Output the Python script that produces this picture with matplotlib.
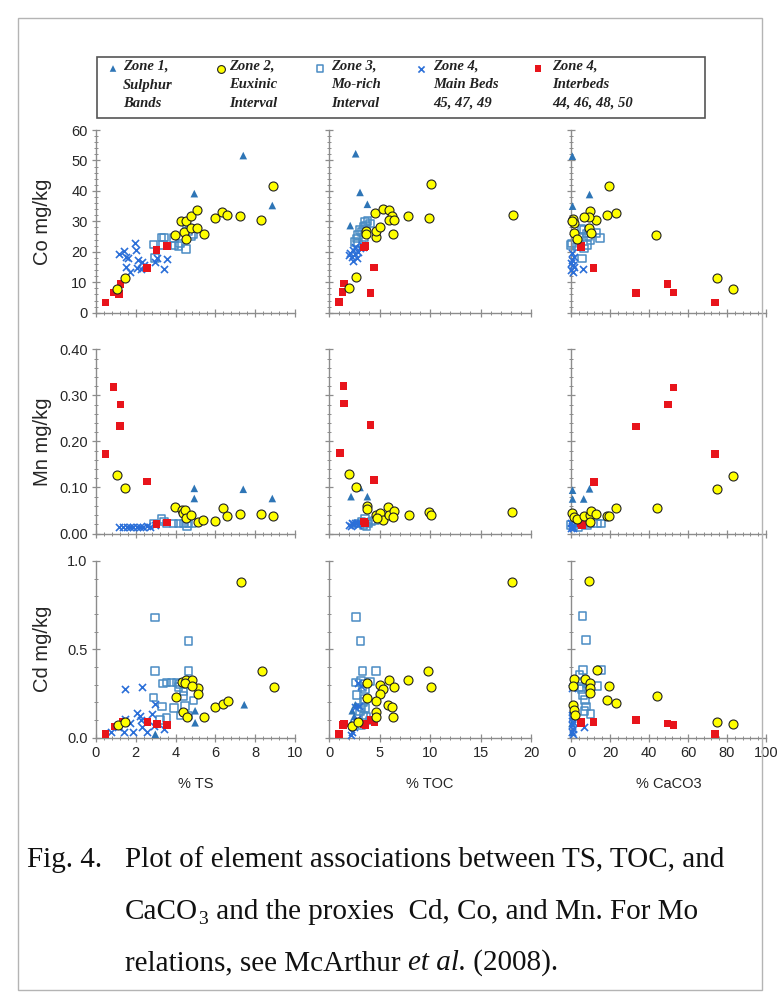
"""
Element associations (Co, Mn, Cd) against TS, TOC and CaCO3, five zone groups.
"""

import matplotlib
matplotlib.use("Agg")
import matplotlib.pyplot as plt
from matplotlib.patches import Rectangle
from matplotlib.ticker import MultipleLocator, FormatStrFormatter

plt.rcParams["font.family"] = ["Liberation Sans", "DejaVu Sans"]

# ---- data: (x, y) pairs ----
# Zone 1, Sulphur Bands
TS_CO_Z1 = [(4.94, 39.1), (7.40, 51.6), (8.86, 35.2)]
TOC_CO_Z1 = [(2.64, 52.2), (3.07, 39.5), (3.80, 35.6), (2.10, 28.6)]
CACO3_CO_Z1 = [(0.7, 51.4), (9.5, 38.8), (0.8, 35.0)]
TS_MN_Z1 = [(4.94, 0.098), (4.94, 0.076), (7.40, 0.096), (8.86, 0.076)]
TOC_MN_Z1 = [(2.18, 0.080), (3.07, 0.100), (3.80, 0.080)]
CACO3_MN_Z1 = [(0.8, 0.094), (0.8, 0.075), (6.5, 0.075), (9.5, 0.097)]
TS_CD_Z1 = [(4.98, 0.152), (4.98, 0.084), (7.45, 0.186), (2.98, 0.019)]
TOC_CD_Z1 = [(2.6, 0.186), (2.3, 0.152), (2.2, 0.084), (2.5, 0.120)]
CACO3_CD_Z1 = [(0.7, 0.150), (1.0, 0.120), (0.5, 0.080), (0.6, 0.030)]

# Zone 2, Euxinic Interval
TS_CO_Z2 = [(1.07, 7.9), (1.44, 11.5), (3.99, 25.6), (4.29, 30.2), (4.51, 30.2),
            (4.41, 26.5), (4.52, 24.3), (4.77, 31.6), (4.77, 27.9), (5.08, 33.6),
            (5.10, 27.9), (5.41, 25.7), (5.96, 31.0), (6.35, 33.0), (6.60, 32.1),
            (7.24, 31.6), (8.28, 30.6), (8.88, 41.6)]
TOC_CO_Z2 = [(1.95, 8.1), (2.67, 11.7), (3.70, 26.9), (3.70, 26.0), (4.69, 24.7),
             (4.65, 26.9), (4.59, 32.7), (5.03, 28.2), (5.37, 34.2), (5.90, 33.6),
             (6.20, 31.7), (5.90, 30.4), (6.47, 30.4), (6.30, 25.9), (7.85, 31.9),
             (9.86, 31.2), (10.1, 42.3), (18.2, 32.0)]
CACO3_CO_Z2 = [(19.3, 41.5), (9.5, 33.4), (18.4, 32.0), (23.2, 32.9), (13.0, 30.6),
               (9.0, 31.4), (6.5, 31.3), (1.0, 30.9), (1.4, 29.5), (0.5, 30.2),
               (9.4, 27.7), (10.4, 26.3), (1.7, 26.3), (3.1, 24.1), (43.8, 25.5),
               (74.7, 11.4), (82.9, 7.9)]
TS_MN_Z2 = [(1.07, 0.127), (1.44, 0.098), (3.99, 0.058), (4.30, 0.050), (4.39, 0.045),
            (4.47, 0.051), (4.52, 0.033), (4.77, 0.040), (5.11, 0.026), (5.39, 0.029),
            (5.98, 0.028), (6.37, 0.055), (6.60, 0.037), (7.24, 0.043), (8.27, 0.042),
            (8.91, 0.038)]
TOC_MN_Z2 = [(1.95, 0.130), (2.67, 0.101), (3.73, 0.060), (3.73, 0.053), (4.65, 0.040),
             (5.05, 0.045), (5.38, 0.029), (5.87, 0.058), (5.94, 0.040), (6.44, 0.049),
             (6.30, 0.035), (7.89, 0.041), (9.87, 0.046), (10.1, 0.040), (18.15, 0.046),
             (4.79, 0.033)]
CACO3_MN_Z2 = [(74.7, 0.097), (83.2, 0.125), (0.5, 0.045), (1.3, 0.035), (3.1, 0.031),
               (6.5, 0.038), (9.5, 0.040), (10.4, 0.049), (13.0, 0.042), (9.5, 0.024),
               (18.4, 0.037), (19.6, 0.038), (23.2, 0.055), (44.0, 0.056)]
TS_CD_Z2 = [(7.29, 0.879), (8.36, 0.377), (8.94, 0.286), (4.00, 0.228), (4.30, 0.313),
            (4.50, 0.326), (4.84, 0.328), (4.47, 0.307), (5.14, 0.279), (5.14, 0.247),
            (4.84, 0.292), (6.00, 0.175), (6.37, 0.188), (6.65, 0.207), (4.39, 0.147),
            (4.56, 0.118), (5.44, 0.118), (1.10, 0.074), (1.46, 0.087)]
TOC_CD_Z2 = [(18.09, 0.879), (9.83, 0.377), (10.07, 0.286), (7.85, 0.326), (5.94, 0.326),
             (5.05, 0.298), (5.38, 0.275), (6.44, 0.286), (5.05, 0.247), (3.73, 0.307),
             (3.73, 0.226), (4.62, 0.207), (5.87, 0.185), (6.27, 0.175), (4.65, 0.147),
             (6.37, 0.118), (4.65, 0.118), (2.28, 0.065), (2.88, 0.087)]
CACO3_CD_Z2 = [(9.0, 0.887), (13.3, 0.383), (19.6, 0.292), (44.0, 0.234), (18.7, 0.213),
               (23.2, 0.194), (1.3, 0.334), (0.8, 0.294), (7.0, 0.334), (9.5, 0.307),
               (9.9, 0.279), (9.9, 0.254), (1.0, 0.185), (1.3, 0.156), (2.2, 0.128),
               (74.7, 0.090), (82.9, 0.078)]

# Zone 3, Mo-rich Interval
TS_CO_Z3 = [(2.88, 22.4), (2.96, 18.0), (3.30, 24.7), (3.38, 22.2), (3.42, 24.7),
            (3.92, 24.5), (3.94, 22.1), (4.14, 21.9), (4.22, 22.7), (4.52, 20.9),
            (4.56, 27.9), (4.64, 26.8), (4.77, 25.1), (4.86, 25.8)]
TOC_CO_Z3 = [(3.56, 29.8), (3.83, 30.2), (3.40, 28.2), (3.07, 27.1), (2.90, 25.5),
             (2.74, 24.4), (2.57, 23.3), (3.23, 26.6), (3.66, 28.4), (4.06, 29.3),
             (2.90, 22.7), (3.47, 24.9)]
CACO3_CO_Z3 = [(0.0, 22.2), (0.5, 22.7), (5.3, 27.4), (6.5, 27.1), (8.2, 26.0),
               (13.0, 26.2), (15.0, 24.6), (5.6, 17.8), (8.2, 22.2), (4.4, 24.9),
               (9.9, 23.8), (6.8, 21.1), (3.1, 21.7), (9.0, 25.1)]
TS_MN_Z3 = [(3.30, 0.031), (3.42, 0.026), (3.89, 0.022), (4.14, 0.022), (4.39, 0.022),
            (4.56, 0.016), (4.64, 0.022), (4.81, 0.023), (3.55, 0.022), (2.88, 0.022)]
TOC_MN_Z3 = [(2.90, 0.022), (3.23, 0.026), (3.56, 0.031), (3.89, 0.022), (3.73, 0.015),
             (4.22, 0.026), (4.55, 0.028), (3.40, 0.018)]
CACO3_MN_Z3 = [(0.0, 0.018), (1.3, 0.016), (3.1, 0.022), (5.6, 0.020), (8.2, 0.018),
               (9.9, 0.022), (13.3, 0.022), (15.3, 0.022), (3.9, 0.013)]
TS_CD_Z3 = [(2.96, 0.681), (4.64, 0.547), (2.96, 0.377), (4.64, 0.377), (3.38, 0.307),
            (3.55, 0.311), (3.80, 0.313), (4.05, 0.313), (4.22, 0.303), (4.14, 0.288),
            (4.39, 0.260), (4.39, 0.235), (2.88, 0.228), (3.32, 0.175), (3.91, 0.166),
            (4.89, 0.209), (4.47, 0.179), (3.55, 0.111), (3.22, 0.100), (4.27, 0.125),
            (4.63, 0.125)]
TOC_CD_Z3 = [(2.67, 0.683), (3.10, 0.547), (3.33, 0.377), (4.65, 0.377), (2.67, 0.313),
             (3.14, 0.320), (3.56, 0.307), (4.06, 0.317), (2.74, 0.241), (3.56, 0.273),
             (3.40, 0.203), (3.56, 0.169), (3.07, 0.147), (3.66, 0.118), (3.33, 0.288),
             (3.20, 0.171), (3.50, 0.217), (3.42, 0.125), (4.00, 0.097), (3.20, 0.069)]
CACO3_CD_Z3 = [(5.9, 0.688), (7.7, 0.554), (6.1, 0.383), (15.3, 0.383), (4.4, 0.354),
               (5.6, 0.317), (8.2, 0.307), (13.3, 0.292), (5.3, 0.275), (6.1, 0.241),
               (7.3, 0.213), (7.8, 0.175), (7.0, 0.151), (9.9, 0.134), (4.4, 0.288)]

# Zone 4, Main Beds 45, 47, 49
TS_CO_Z4M = [(1.17, 19.4), (1.41, 20.1), (1.51, 18.4), (1.62, 17.8), (1.51, 15.1),
             (1.71, 13.3), (1.96, 22.9), (2.01, 20.5), (2.04, 14.8), (2.13, 17.3),
             (2.33, 16.7), (2.41, 15.6), (2.24, 14.2), (2.96, 16.7), (3.05, 17.8),
             (3.42, 14.4), (3.58, 17.5)]
TOC_CO_Z4M = [(2.08, 19.5), (2.24, 18.4), (2.41, 20.5), (2.57, 19.2), (2.74, 17.8),
              (3.07, 21.1), (3.23, 22.2), (2.34, 17.1), (2.01, 18.9), (2.90, 20.0),
              (2.57, 21.6), (3.40, 21.6)]
CACO3_CO_Z4M = [(0.5, 17.3), (0.8, 15.6), (0.0, 14.0), (1.3, 18.4), (0.5, 19.5),
                (1.0, 13.5), (6.1, 14.4), (0.0, 16.2), (1.3, 14.9)]
TS_MN_Z4M = [(1.17, 0.015), (1.37, 0.015), (1.54, 0.015), (1.71, 0.015), (1.88, 0.015),
             (2.04, 0.015), (2.21, 0.015), (2.38, 0.015), (2.55, 0.016), (2.71, 0.015),
             (2.96, 0.018)]
TOC_MN_Z4M = [(2.01, 0.018), (2.24, 0.022), (2.41, 0.020), (2.57, 0.022), (2.74, 0.023),
              (2.18, 0.016), (2.90, 0.019), (3.07, 0.022)]
CACO3_MN_Z4M = [(0.0, 0.022), (0.5, 0.016), (1.0, 0.013), (0.0, 0.013)]
TS_CD_Z4M = [(1.46, 0.277), (2.33, 0.285), (2.96, 0.190), (0.73, 0.032), (1.10, 0.060),
             (1.46, 0.106), (1.71, 0.084), (2.07, 0.139), (2.20, 0.121), (2.32, 0.060),
             (1.88, 0.032), (2.56, 0.032), (2.93, 0.065), (2.27, 0.097), (1.39, 0.032),
             (3.41, 0.050), (2.80, 0.134)]
TOC_CD_Z4M = [(2.28, 0.032), (2.50, 0.060), (2.74, 0.106), (2.97, 0.180), (2.20, 0.013),
              (2.65, 0.087), (3.20, 0.290), (2.88, 0.310), (2.57, 0.175)]
CACO3_CD_Z4M = [(0.5, 0.13), (0.5, 0.11), (0.8, 0.09), (0.3, 0.07), (1.0, 0.05),
                (0.5, 0.03), (1.2, 0.02), (6.5, 0.06), (0.5, 0.28), (1.0, 0.29)]

# Zone 4, Interbeds 44, 46, 48, 50
TS_CO_Z4I = [(0.47, 3.4), (0.87, 6.6), (1.17, 6.2), (1.24, 9.4), (2.55, 14.7),
             (3.05, 20.6), (3.57, 22.0)]
TOC_CO_Z4I = [(1.02, 3.5), (1.35, 6.7), (4.10, 6.4), (1.49, 9.6), (4.46, 14.8),
              (3.45, 21.4), (3.60, 22.0)]
CACO3_CO_Z4I = [(73.7, 3.3), (52.5, 6.6), (33.3, 6.4), (49.5, 9.4), (11.6, 14.6),
                (5.1, 21.4), (5.2, 22.0)]
TS_MN_Z4I = [(0.47, 0.173), (0.87, 0.318), (1.20, 0.233), (1.24, 0.280), (2.55, 0.113),
             (3.05, 0.020), (3.57, 0.024)]
TOC_MN_Z4I = [(1.09, 0.175), (1.42, 0.320), (4.10, 0.235), (1.50, 0.282), (4.46, 0.116),
              (3.47, 0.026), (3.56, 0.022)]
CACO3_MN_Z4I = [(74.0, 0.172), (52.5, 0.317), (33.3, 0.232), (49.8, 0.280), (11.7, 0.112),
                (5.1, 0.022), (5.6, 0.018)]
TS_CD_Z4I = [(0.48, 0.019), (0.96, 0.063), (1.33, 0.091), (2.58, 0.087), (3.08, 0.076),
             (3.57, 0.072)]
TOC_CD_Z4I = [(1.0, 0.020), (1.4, 0.070), (1.5, 0.080), (4.1, 0.100), (4.5, 0.087),
              (3.45, 0.076), (3.6, 0.072)]
CACO3_CD_Z4I = [(73.7, 0.020), (52.5, 0.070), (49.5, 0.080), (33.3, 0.100), (11.6, 0.087),
                (5.1, 0.090), (5.2, 0.080)]

X_LABELS = ["% TS", "% TOC", "% CaCO3"]
X_LIMITS = [(0, 10, 2, 0.4), (0, 20, 5, 1), (0, 100, 20, 4)]
Y_LABELS = ["Co mg/kg", "Mn mg/kg", "Cd mg/kg"]
Y_LIMITS = [(0, 60, 10, 2, "%d"), (0, 0.40, 0.10, 0.02, "%.2f"), (0, 1.0, 0.5, 0.1, "%.1f")]

LEGEND_LABELS = ["Zone 1,\nSulphur\nBands", "Zone 2,\nEuxinic\nInterval",
                 "Zone 3,\nMo-rich\nInterval", "Zone 4,\nMain Beds\n45, 47, 49",
                 "Zone 4,\nInterbeds\n44, 46, 48, 50"]

PANELS = [
    [[TS_CO_Z1, TS_CO_Z2, TS_CO_Z3, TS_CO_Z4M, TS_CO_Z4I],
     [TOC_CO_Z1, TOC_CO_Z2, TOC_CO_Z3, TOC_CO_Z4M, TOC_CO_Z4I],
     [CACO3_CO_Z1, CACO3_CO_Z2, CACO3_CO_Z3, CACO3_CO_Z4M, CACO3_CO_Z4I]],
    [[TS_MN_Z1, TS_MN_Z2, TS_MN_Z3, TS_MN_Z4M, TS_MN_Z4I],
     [TOC_MN_Z1, TOC_MN_Z2, TOC_MN_Z3, TOC_MN_Z4M, TOC_MN_Z4I],
     [CACO3_MN_Z1, CACO3_MN_Z2, CACO3_MN_Z3, CACO3_MN_Z4M, CACO3_MN_Z4I]],
    [[TS_CD_Z1, TS_CD_Z2, TS_CD_Z3, TS_CD_Z4M, TS_CD_Z4I],
     [TOC_CD_Z1, TOC_CD_Z2, TOC_CD_Z3, TOC_CD_Z4M, TOC_CD_Z4I],
     [CACO3_CD_Z1, CACO3_CD_Z2, CACO3_CD_Z3, CACO3_CD_Z4M, CACO3_CD_Z4I]],
]

# marker styles per zone (same order as the lists above)
STYLES = [
    dict(marker="^", s=30, c="#2E75B6", edgecolors="none", zorder=3),
    dict(marker="o", s=42, c="#FFFF00", edgecolors="#222222", linewidths=0.8, zorder=5),
    dict(marker="s", s=30, facecolors="none", edgecolors="#4A8CC4", linewidths=1.1, zorder=2),
    dict(marker="x", s=26, c="#2B6FD8", linewidths=1.2, zorder=3),
    dict(marker="s", s=30, c="#E8141B", edgecolors="none", zorder=4),
]

W, H = 780, 1008
fig = plt.figure(figsize=(W / 100, H / 100), dpi=100)

# pixel boxes of the axes: (left, right) per column, (top, bottom) per row
COLS = [(96, 295), (329, 531), (571, 766)]
ROWS = [(130, 312.7), (349.3, 533.5), (561, 737.6)]
AX_GREY = "#8C8C8C"

for r, (top, bot) in enumerate(ROWS):
    y0, y1, ymaj, ymin, yfmt = Y_LIMITS[r]
    for c, (left, right) in enumerate(COLS):
        x0, x1, xmaj, xmin = X_LIMITS[c]
        ax = fig.add_axes([left / W, 1 - bot / H, (right - left) / W, (bot - top) / H])
        for pts, st in zip(PANELS[r][c], STYLES):
            xs = [p[0] for p in pts]
            ys = [p[1] for p in pts]
            ax.scatter(xs, ys, clip_on=False, **st)
        ax.set_xlim(x0, x1)
        ax.set_ylim(y0, y1)
        ax.xaxis.set_major_locator(MultipleLocator(xmaj))
        ax.xaxis.set_minor_locator(MultipleLocator(xmin))
        ax.yaxis.set_major_locator(MultipleLocator(ymaj))
        ax.yaxis.set_minor_locator(MultipleLocator(ymin))
        ax.yaxis.set_major_formatter(FormatStrFormatter(yfmt))
        for side in ["top", "right"]:
            ax.spines[side].set_visible(False)
        for side in ["left", "bottom"]:
            ax.spines[side].set_color(AX_GREY)
            ax.spines[side].set_linewidth(1.0)
        ax.tick_params(which="major", direction="inout", length=6, width=0.9,
                       color=AX_GREY, labelsize=10.5, labelcolor="#262626", pad=3)
        ax.tick_params(which="minor", direction="inout", length=3, width=0.7, color=AX_GREY)
        ax.patch.set_alpha(0)
        if c > 0:
            ax.tick_params(axis="y", labelleft=False)
        if r < 2:
            ax.tick_params(axis="x", labelbottom=False)
        else:
            ax.set_xlabel(X_LABELS[c], fontsize=10.5, color="#262626", labelpad=12)
    fig.text(42 / W, 1 - (top + bot) / 2 / H, Y_LABELS[r], rotation=90,
             ha="center", va="center", fontsize=14.5, color="#262626")

# legend box
leg = fig.add_axes([97 / W, 1 - 118 / H, (705 - 97) / W, (118 - 57) / H])
leg.set_xlim(97, 705)
leg.set_ylim(118, 57)
leg.axis("off")
leg.add_patch(Rectangle((97, 57), 608, 61, fill=False, ec="#555555", lw=1.2, clip_on=False))
mark_x = [113, 221, 320, 421, 538]
text_x = [123, 229, 331, 433, 552]
for lab, mx, tx, st in zip(LEGEND_LABELS, mark_x, text_x, STYLES):
    st2 = dict(st)
    st2["s"] = st["s"] * 0.75
    leg.scatter([mx], [68.5], clip_on=False, **st2)
    leg.text(tx, 60, lab, ha="left", va="top", fontsize=10.5, family="Liberation Serif",
             weight="bold", style="italic", color="#222222", linespacing=1.55)

# caption, placed piece by piece so the subscript and italic run sit naturally
cap = dict(family="Liberation Serif", color="#111111", va="baseline")
rend = fig.canvas.get_renderer()


def put(x_px, y_px, txt, size=21, style="normal"):
    t = fig.text(x_px / W, 1 - y_px / H, txt, fontsize=size, style=style, **cap)
    return t.get_window_extent(renderer=rend).x1


put(27, 867, "Fig. 4.")
put(125, 867, "Plot of element associations between TS, TOC, and")
xa = put(125, 919, "CaCO")
xb = put(xa, 924, "3", size=14)
put(xb + 1, 919, " and the proxies  Cd, Co, and Mn. For Mo")
xc = put(125, 970, "relations, see McArthur\u00a0")
xd = put(xc, 970, "et al.", style="italic")
put(xd, 970, "\u00a0(2008).")

# outer frame
fig.add_artist(Rectangle((18 / W, 1 - 990 / H), 744 / W, 972 / H, transform=fig.transFigure,
                         fill=False, ec="#B4B4B4", lw=1.0))

fig.savefig("out.png", dpi=100)
